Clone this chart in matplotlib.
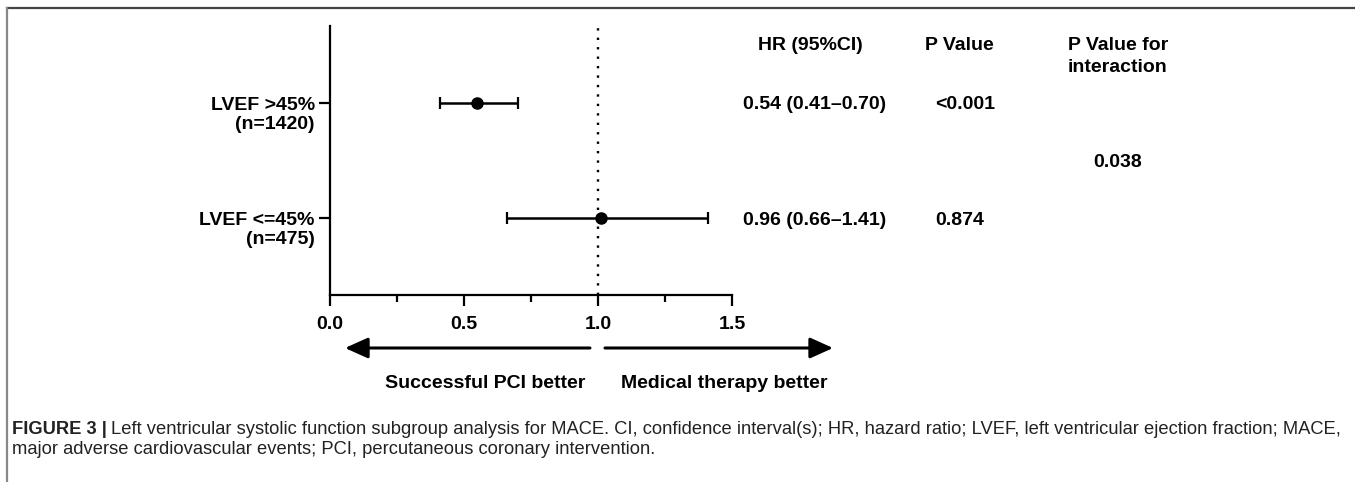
import matplotlib
matplotlib.use('Agg')
import matplotlib.pyplot as plt
import matplotlib.transforms as mtransforms
from matplotlib.lines import Line2D
from matplotlib.ticker import MultipleLocator

plt.rcParams['font.family'] = ['Liberation Sans', 'DejaVu Sans']

# data
groups = ['LVEF >45%\n(n=1420)', 'LVEF <=45%\n(n=475)']
hr_plot = [0.55, 1.01]
ci_low = [0.41, 0.66]
ci_high = [0.70, 1.41]
hr_text = ['0.54 (0.41\u20130.70)', '0.96 (0.66\u20131.41)']
p_text = ['<0.001', '0.874']
p_interaction = '0.038'
xticks = [0.0, 0.5, 1.0, 1.5]

W, H = 1355, 482
fig = plt.figure(figsize=(W / 100, H / 100), dpi=100)

def fx(px):
    return px / W

def fy(py):
    return 1 - py / H

# axes placed in pixel terms of the reference
ax = fig.add_axes([fx(330), fy(295), fx(732) - fx(330), fy(26) - fy(295)])
ax.set_xlim(0, 1.5)
ax.set_ylim(0, 3.5)
ypos = [2.5 - 1.5 * i for i in range(len(groups))]

for s in ['top', 'right']:
    ax.spines[s].set_visible(False)
for s in ['left', 'bottom']:
    ax.spines[s].set_linewidth(1.6)

ax.axvline(1.0, color='black', linestyle=(0, (1, 3)), linewidth=1.7)

xerr = [[h - l for h, l in zip(hr_plot, ci_low)], [u - h for h, u in zip(hr_plot, ci_high)]]
ax.errorbar(hr_plot, ypos, xerr=xerr, fmt='o', color='black', markersize=8,
            elinewidth=1.8, capsize=4, capthick=1.6, zorder=3)

ax.set_xticks(xticks)
ax.set_xticklabels(['%.1f' % v for v in xticks], fontsize=14, fontweight='bold')
ax.xaxis.set_minor_locator(MultipleLocator(0.25))
ax.tick_params(axis='x', which='major', length=8, width=1.6, pad=7)
ax.tick_params(axis='x', which='minor', length=5, width=1.6)
ax.set_yticks(ypos)
ax.set_yticklabels(groups, fontsize=14, fontweight='bold', ha='right', va='center',
                   linespacing=1.15)
ax.tick_params(axis='y', length=8, width=1.6, pad=3)
# shift labels so the first line sits on the tick
offset = mtransforms.ScaledTranslation(0, -12 / 100, fig.dpi_scale_trans)
for lab in ax.get_yticklabels():
    lab.set_multialignment('right')
    lab.set_transform(lab.get_transform() + offset)

# table columns
bold = dict(fontsize=14, fontweight='bold')
fig.text(fx(810), fy(43), 'HR (95%CI)', ha='center', va='center_baseline', **bold)
fig.text(fx(959), fy(43), 'P Value', ha='center', va='center_baseline', **bold)
fig.text(fx(1068), fy(43), 'P Value for', ha='left', va='center_baseline', **bold)
fig.text(fx(1068), fy(65), 'interaction', ha='left', va='center_baseline', **bold)
tr = mtransforms.blended_transform_factory(fig.transFigure, ax.transData)
for i in range(len(groups)):
    fig.text(fx(743), ypos[i], hr_text[i], ha='left', va='center_baseline', transform=tr, **bold)
    fig.text(fx(935), ypos[i], p_text[i], ha='left', va='center_baseline', transform=tr, **bold)
fig.text(fx(1118), (ypos[0] + ypos[1]) / 2, p_interaction, ha='center', va='center_baseline',
         transform=tr, **bold)

# direction arrows
arrow = dict(arrowstyle='-|>,head_length=1.0,head_width=0.45', color='black',
             linewidth=2.2, mutation_scale=14, shrinkA=0, shrinkB=0)
ax.annotate('', xy=(0.056, fy(348)), xytext=(0.97, fy(348)),
            xycoords=('data', 'figure fraction'), textcoords=('data', 'figure fraction'),
            arrowprops=arrow, annotation_clip=False)
ax.annotate('', xy=(1.877, fy(348)), xytext=(1.026, fy(348)),
            xycoords=('data', 'figure fraction'), textcoords=('data', 'figure fraction'),
            arrowprops=arrow, annotation_clip=False)
fig.text(fx(485), fy(382), 'Successful PCI better', ha='center', va='center_baseline', **bold)
fig.text(fx(724), fy(382), 'Medical therapy better', ha='center', va='center_baseline', **bold)

# frame of the figure panel
fig.add_artist(Line2D([fx(7), 1], [fy(8), fy(8)], color='#444444', linewidth=1.6))
fig.add_artist(Line2D([fx(7), fx(7)], [fy(8), 0], color='#888888', linewidth=1.6))

# caption
cap_size = 13.2
cap_color = '#222222'
t1 = fig.text(fx(12), fy(427), 'FIGURE 3 |', fontsize=cap_size, fontweight='bold',
              color=cap_color, ha='left', va='center_baseline')
fig.canvas.draw()
bb = t1.get_window_extent()
fig.text((bb.x1 + 4) / W, fy(427),
         'Left ventricular systolic function subgroup analysis for MACE. CI, confidence interval(s); '
         'HR, hazard ratio; LVEF, left ventricular ejection fraction; MACE,',
         fontsize=cap_size, color=cap_color, ha='left', va='center_baseline')
fig.text(fx(12), fy(447), 'major adverse cardiovascular events; PCI, percutaneous coronary intervention.',
         fontsize=cap_size, color=cap_color, ha='left', va='center_baseline')

fig.savefig('out.png', dpi=100)
